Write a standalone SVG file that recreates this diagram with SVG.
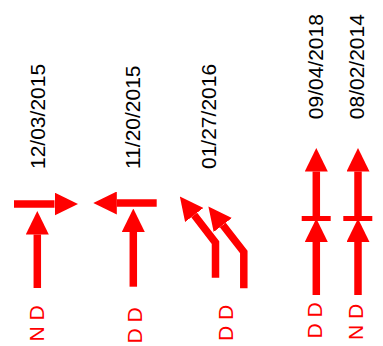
<svg xmlns="http://www.w3.org/2000/svg" width="383" height="346" viewBox="0 0 383 346">
  <defs>
    <marker id="ah" viewBox="0 0 23.5 23" refX="0" refY="11.5" markerWidth="23.5" markerHeight="23" markerUnits="userSpaceOnUse" orient="auto">
      <path d="M0,0 L23.5,11.5 L0,23 z" fill="#ff0000"/>
    </marker>
  </defs>
  <style>
    .date { font-family: "Liberation Sans", Arial, sans-serif; font-size: 21px; fill: #000; }
    .lbl { font-family: "Liberation Sans", Arial, sans-serif; font-size: 21px; fill: #ff0000; }
    .arr { fill: none; stroke: #ff0000; stroke-width: 7.5; stroke-linejoin: miter; stroke-linecap: butt; marker-end: url(#ah); }
    .bar { fill: none; stroke: #ff0000; stroke-width: 5; }
    .shaft { fill: none; stroke: #ff0000; stroke-width: 7.5; }
  </style>

  <g id="node1">
    <text class="date" transform="translate(44.5,169) rotate(-90)">12/03/2015</text>
    <path class="arr" d="M14,204 L54.5,204"/>
    <path class="arr" d="M37.3,288 L37.3,234.5"/>
    <text class="lbl" transform="translate(44,341.6) rotate(-90)">N D</text>
  </g>

  <g id="node2">
    <text class="date" transform="translate(139.5,169) rotate(-90)">11/20/2015</text>
    <path class="arr" d="M156.7,203 L116.8,203"/>
    <path class="arr" d="M133.3,286.7 L133.3,232"/>
    <text class="lbl" transform="translate(141.7,343.4) rotate(-90)">D D</text>
  </g>

  <g id="node3">
    <text class="date" transform="translate(216,169) rotate(-90)">01/27/2016</text>
    <path class="arr" d="M215.5,277.7 L215.5,242.6 L194.2,215"/>
    <path class="arr" d="M243.8,288.3 L243.8,252 L222.8,225"/>
    <text class="lbl" transform="translate(233.3,341) rotate(-90)">D D</text>
  </g>

  <g id="node4">
    <text class="date" transform="translate(323,119.2) rotate(-90)">09/04/2018</text>
    <path class="arr" d="M316.3,218.5 L316.3,171.5"/>
    <path class="arr" d="M316.3,295 L316.3,242"/>
    <path class="bar" d="M301.7,218.5 L330.7,218.5"/>
    <text class="lbl" transform="translate(321.7,338.4) rotate(-90)">D D</text>
  </g>

  <g id="node5">
    <text class="date" transform="translate(364,119.2) rotate(-90)">08/02/2014</text>
    <path class="arr" d="M358,218.5 L358,171.5"/>
    <path class="arr" d="M358,295 L358,242"/>
    <path class="bar" d="M343.3,218.5 L372.3,218.5"/>
    <text class="lbl" transform="translate(363.3,340) rotate(-90)">N D</text>
  </g>

  <g id="connectors"/>
</svg>
